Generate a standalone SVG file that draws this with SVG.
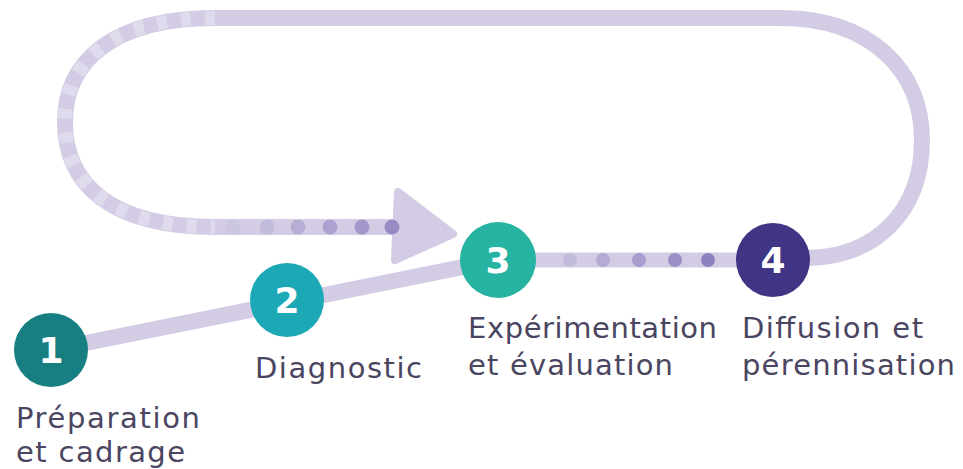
<svg xmlns="http://www.w3.org/2000/svg" width="963" height="469" viewBox="0 0 963 469">
<style>
.track{fill:none;stroke:#d3cce4;stroke-width:16;stroke-linecap:butt}
.lbl{font-family:"DejaVu Sans",sans-serif;font-size:29px;fill:#4a4560}
.num{font-family:"DejaVu Sans",sans-serif;font-size:36px;font-weight:bold;fill:#ffffff;text-anchor:middle}
</style>
<rect width="963" height="469" fill="#ffffff"/>
<g id="connectors">
  <path class="track" d="M 215 18 L 780 18 C 870 18 922 70 922 140 C 922 212 875 258 805 258"/>
  <path class="track" d="M 215 18 C 112 18 65 62 65 122 C 65 185 112 227 215 227 L 400 227"/>
  <path d="M 215 18 C 112 18 65 62 65 122 C 65 185 112 227 215 227" fill="none" stroke="#ffffff" stroke-opacity="0.3" stroke-width="14" stroke-dasharray="10 14"/>
  <polygon points="398,192 453,234 395,260" fill="#d3cce4" stroke="#d3cce4" stroke-width="8" stroke-linejoin="round"/>
  <g id="dots-left">
    <circle cx="233" cy="227" r="7.5" fill="#cdc6e0"/>
    <circle cx="267" cy="227" r="7.5" fill="#c3bbdb"/>
    <circle cx="298" cy="227" r="7.5" fill="#b8aed5"/>
    <circle cx="330" cy="227" r="7.5" fill="#ada2cf"/>
    <circle cx="362" cy="227" r="7.5" fill="#a396ca"/>
    <circle cx="392" cy="227" r="7.5" fill="#998bc4"/>
  </g>
  <line class="track" x1="51" y1="350" x2="498" y2="260"/>
  <line x1="530" y1="260" x2="745" y2="260" stroke="#d3cce4" stroke-width="15"/>
  <g id="dots-right">
    <circle cx="570" cy="260" r="7" fill="#c3bbdb"/>
    <circle cx="603" cy="260" r="7" fill="#b5abd4"/>
    <circle cx="639" cy="260" r="7" fill="#a89dcd"/>
    <circle cx="675" cy="260" r="7" fill="#9b8ec6"/>
    <circle cx="708" cy="260" r="7" fill="#8e81bf"/>
  </g>
</g>
<g id="node1">
  <circle cx="51" cy="350" r="37" fill="#177f82"/>
  <text class="num" x="51" y="363">1</text>
  <text class="lbl" x="16" y="428" textLength="184" lengthAdjust="spacing">Préparation</text>
  <text class="lbl" x="16" y="462" textLength="169" lengthAdjust="spacing">et cadrage</text>
</g>
<g id="node2">
  <circle cx="287" cy="300" r="37" fill="#1ca8b4"/>
  <text class="num" x="287" y="313">2</text>
  <text class="lbl" x="255" y="378" textLength="167" lengthAdjust="spacing">Diagnostic</text>
</g>
<g id="node3">
  <circle cx="498" cy="260" r="38" fill="#26b3a2"/>
  <text class="num" x="498" y="273">3</text>
  <text class="lbl" x="468" y="338" textLength="249" lengthAdjust="spacing">Expérimentation</text>
  <text class="lbl" x="468" y="375" textLength="205" lengthAdjust="spacing">et évaluation</text>
</g>
<g id="node4">
  <circle cx="773" cy="260" r="37" fill="#3f3584"/>
  <text class="num" x="773" y="273">4</text>
  <text class="lbl" x="742" y="338" textLength="181" lengthAdjust="spacing">Diffusion et</text>
  <text class="lbl" x="742" y="375" textLength="213" lengthAdjust="spacing">pérennisation</text>
</g>
</svg>
